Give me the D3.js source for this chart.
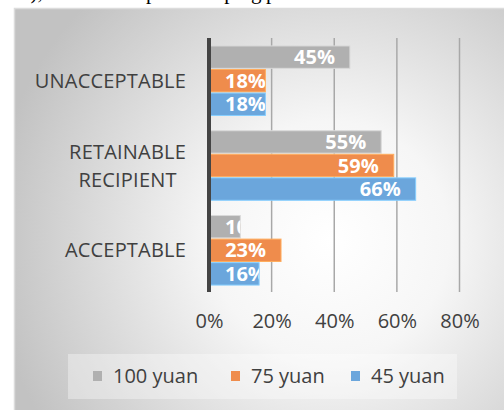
<!DOCTYPE html>
<html>
<head>
<meta charset="utf-8">
<script src="https://cdn.jsdelivr.net/npm/d3@7"></script>
<style>
  html, body { margin: 0; padding: 0; background: #fff; }
  svg { display: block; }
</style>
</head>
<body>
<div id="chart"></div>
<script>
// Share of respondents by acceptance level, for each price point
const categories = ["UNACCEPTABLE", "RETAINABLE RECIPIENT", "ACCEPTABLE"];
const categoryLines = [["UNACCEPTABLE"], ["RETAINABLE", "RECIPIENT"], ["ACCEPTABLE"]];
const seriesNames = ["100 yuan", "75 yuan", "45 yuan"];
const values100 = [45, 55, 10];
const values75 = [18, 59, 23];
const values45 = [18, 66, 16];
const xTicks = [0, 20, 40, 60, 80];
const colors = ["#b0b0b0", "#ef8c4c", "#6ba6dc"];

const seriesValues = [values100, values75, values45];
const W = 504, H = 410;
const FONT = "'Open Sans', 'Noto Sans', sans-serif";

const svg = d3.select("#chart").append("svg")
  .attr("width", W).attr("height", H);

const defs = svg.append("defs");
const grad = defs.append("radialGradient")
  .attr("id", "bg").attr("gradientUnits", "userSpaceOnUse")
  .attr("cx", 330).attr("cy", 240).attr("r", 340);
grad.append("stop").attr("offset", "0%").attr("stop-color", "#ffffff");
grad.append("stop").attr("offset", "35%").attr("stop-color", "#f6f6f6");
grad.append("stop").attr("offset", "100%").attr("stop-color", "#c2c2c2");

// running text of the page above the chart frame
svg.append("text")
  .attr("y", -1)
  .attr("font-family", "'Liberation Serif', 'Times New Roman', serif")
  .attr("font-size", 21)
  .attr("fill", "#000")
  .call(t => {
    t.append("tspan").attr("x", 20).text("3), and the");
    t.append("tspan").attr("x", 146).text("price");
    t.append("tspan").attr("x", 195).text("keeping");
    t.append("tspan").attr("x", 266).text("price");
  });

// chart frame
svg.append("rect")
  .attr("x", 14.5).attr("y", 8.5)
  .attr("width", W).attr("height", H)
  .attr("fill", "url(#bg)")
  .attr("stroke", "#dcdcdc").attr("stroke-width", 1.5);

const x = d3.scaleLinear().domain([0, 80]).range([209, 459.5]);
const y = d3.scaleBand().domain(categories).range([40, 291])
  .paddingInner(0.18).paddingOuter(0.07);
const ySeries = d3.scaleBand().domain(seriesNames).range([0, y.bandwidth()])
  .paddingInner(0.05);

// vertical gridlines
svg.append("g").selectAll("line")
  .data(xTicks.filter(d => d > 0))
  .join("line")
  .attr("x1", d => x(d)).attr("x2", d => x(d))
  .attr("y1", 38).attr("y2", 292)
  .attr("stroke", "#a8a8a8").attr("stroke-width", 1.5);

// x axis tick labels
const xAxis = d3.axisBottom(x).tickValues(xTicks).tickFormat(d => d + "%").tickSize(0);
const gx = svg.append("g").attr("transform", "translate(0,311)").call(xAxis);
gx.select(".domain").remove();
gx.selectAll("text")
  .attr("font-family", FONT).attr("font-size", 20).attr("fill", "#404040")
  .attr("dy", "0.71em");

// bars
const data = [];
categories.forEach((c, ci) => {
  seriesNames.forEach((s, si) => {
    data.push({ cat: c, series: s, si, value: seriesValues[si][ci], id: `b${ci}${si}` });
  });
});

const barG = svg.append("g");
data.forEach(d => {
  const by = y(d.cat) + ySeries(d.series);
  const bh = ySeries.bandwidth();
  defs.append("clipPath").attr("id", "clip-" + d.id)
    .append("rect")
    .attr("x", x(0)).attr("y", by)
    .attr("width", x(d.value) - x(0)).attr("height", bh);
  barG.append("rect")
    .attr("x", x(0)).attr("y", by)
    .attr("width", x(d.value) - x(0)).attr("height", bh)
    .attr("fill", colors[d.si])
    .attr("stroke", d3.color(colors[d.si]).brighter(0.6))
    .attr("stroke-width", 1);
  const label = barG.append("text")
    .attr("clip-path", `url(#clip-${d.id})`)
    .attr("y", by + bh / 2)
    .attr("dy", "0.36em")
    .attr("font-family", FONT).attr("font-size", 20).attr("font-weight", 700)
    .attr("fill", "#ffffff")
    .text(d.value + "%");
  const w = label.node().getComputedTextLength();
  label.attr("x", Math.max(x(0) + 16, x(d.value) - 15 - w));
});

// category axis line
svg.append("line")
  .attr("x1", x(0)).attr("x2", x(0))
  .attr("y1", 38).attr("y2", 292)
  .attr("stroke", "#444444").attr("stroke-width", 4);

// category labels
categories.forEach((c, ci) => {
  const lines = categoryLines[ci];
  const cy = y(c) + y.bandwidth() / 2;
  const lh = 28;
  const t = svg.append("text")
    .attr("font-family", FONT).attr("font-size", 20)
    .attr("letter-spacing", 0.2).attr("fill", "#404040");
  const spans = lines.map((ln, li) => t.append("tspan")
    .attr("y", cy + (li - (lines.length - 1) / 2) * lh)
    .attr("dy", "0.36em")
    .text(ln));
  const widths = spans.map(s => s.node().getComputedTextLength());
  const maxW = d3.max(widths);
  const right = 186;
  spans.forEach((s, i) => s.attr("x", right - maxW / 2 - widths[i] / 2));
});

// legend
const lg = svg.append("g");
lg.append("rect")
  .attr("x", 68).attr("y", 354).attr("width", 389).attr("height", 45)
  .attr("fill", "#ffffff").attr("fill-opacity", 0.35);
const legendX = [93, 231, 351];
seriesNames.forEach((s, i) => {
  lg.append("rect")
    .attr("x", legendX[i]).attr("y", 371)
    .attr("width", 9).attr("height", 10)
    .attr("fill", colors[i]);
  lg.append("text")
    .attr("x", legendX[i] + 20).attr("y", 383)
    .attr("font-family", FONT).attr("font-size", 20).attr("fill", "#404040")
    .text(s);
});
</script>
</body>
</html>
